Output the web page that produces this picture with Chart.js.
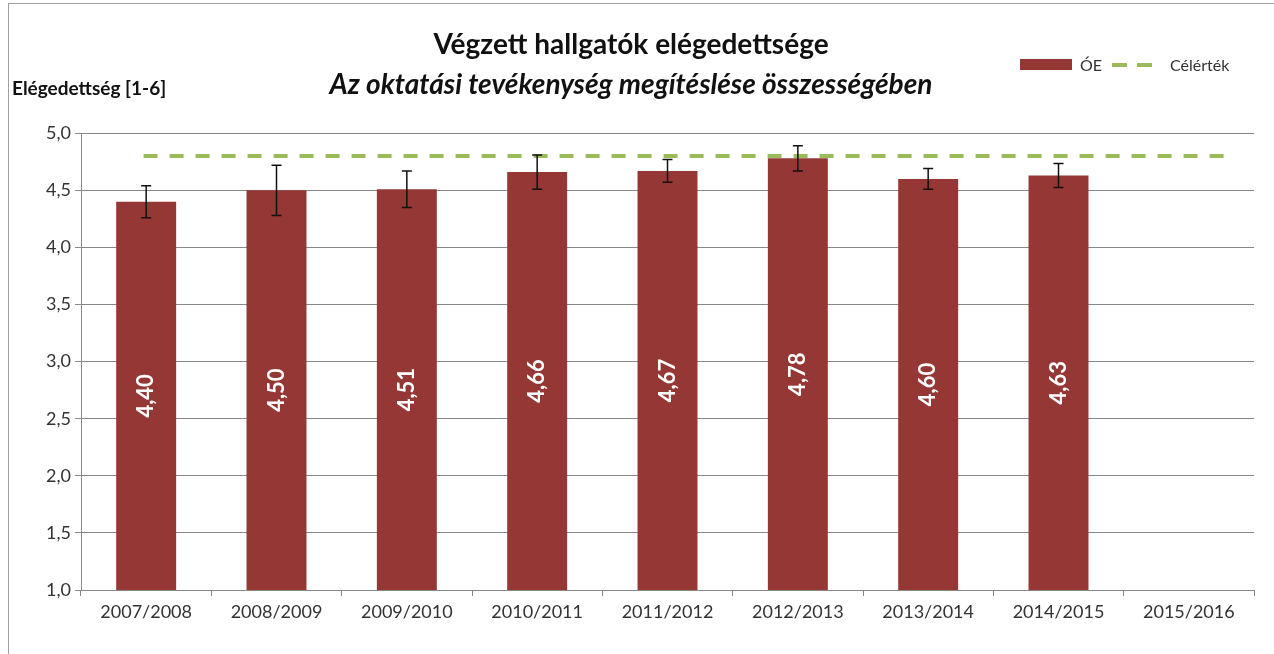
<!DOCTYPE html>
<html>
<head>
<meta charset="utf-8">
<script src="https://cdn.jsdelivr.net/npm/chart.js@4"></script>
<style>
  html, body { margin: 0; padding: 0; background: #fff; }
  #wrap { position: relative; width: 1274px; height: 654px; font-family: Lato, "Open Sans", sans-serif; }
  #frame { position: absolute; left: 8px; top: 3px; right: 0; bottom: 0; border-top: 1px solid #a0a0a0; border-left: 1px solid #a0a0a0; }
  #ylabel { position: absolute; left: 12px; top: 76px; font-size: 19px; font-weight: bold; color: #111; }
  #legend { position: absolute; left: 1020px; top: 55px; font-size: 16px; color: #333; display: flex; align-items: center; }
  .swatch { width: 52px; height: 11px; background: #953735; margin-right: 8px; }
  .dash { width: 15px; height: 4px; background: #9bbb59; }
  .gap { width: 10px; }
  canvas { position: absolute; left: 0; top: 0; }
</style>
</head>
<body>
<div id="wrap">
  <div id="frame"></div>
  <canvas id="chart" width="1274" height="654"></canvas>
  <div id="ylabel">Elégedettség [1-6]</div>
  <div id="legend"><div class="swatch"></div><span>ÓE</span><div class="gap"></div><div class="dash"></div><div class="gap"></div><div class="dash"></div><div class="gap" style="width:18px"></div><span>Célérték</span></div>
</div>
<script>
  // Academic years
  const years = ['2007/2008', '2008/2009', '2009/2010', '2010/2011', '2011/2012',
                 '2012/2013', '2013/2014', '2014/2015', '2015/2016'];
  // Satisfaction scores (ÓE), last year has no data
  const scores = [4.40, 4.50, 4.51, 4.66, 4.67, 4.78, 4.60, 4.63, null];
  // Error bar half-widths
  const errors = [0.14, 0.22, 0.16, 0.15, 0.10, 0.11, 0.09, 0.105, null];
  // Target value line (Célérték): start/end along the category range and its value
  const targetX = [0.48, 8.83];
  const targetY = [4.8, 4.8];
  const yTicks = [1.0, 1.5, 2.0, 2.5, 3.0, 3.5, 4.0, 4.5, 5.0];

  const FONT = 'Lato, "Open Sans", sans-serif';
  const fmt = v => v.toFixed(2).replace('.', ',');

  // draws error bars and rotated value labels on the bars
  const barExtras = {
    id: 'barExtras',
    afterDatasetsDraw(chart) {
      const ctx = chart.ctx;
      const meta = chart.getDatasetMeta(1);
      const y = chart.scales.y;
      meta.data.forEach((bar, i) => {
        if (scores[i] == null) return;
        const x = bar.x;
        // value label
        const mid = y.getPixelForValue((1 + scores[i]) / 2);
        ctx.save();
        ctx.translate(x, mid);
        ctx.rotate(-Math.PI / 2);
        ctx.fillStyle = '#fff';
        ctx.font = 'bold 22px ' + FONT;
        ctx.textAlign = 'center';
        ctx.textBaseline = 'middle';
        ctx.fillText(fmt(scores[i]), 0, 0);
        ctx.restore();
        // error bar
        const top = y.getPixelForValue(scores[i] + errors[i]);
        const bot = y.getPixelForValue(scores[i] - errors[i]);
        ctx.save();
        ctx.strokeStyle = '#111';
        ctx.lineWidth = 1.5;
        ctx.beginPath();
        ctx.moveTo(x, top); ctx.lineTo(x, bot);
        ctx.moveTo(x - 5, top); ctx.lineTo(x + 5, top);
        ctx.moveTo(x - 5, bot); ctx.lineTo(x + 5, bot);
        ctx.stroke();
        ctx.restore();
      });
    }
  };

  const ctx = document.getElementById('chart').getContext('2d');
  new Chart(ctx, {
    data: {
      labels: years,
      datasets: [{
        type: 'line',
        label: 'Célérték',
        data: targetX.map((x, i) => ({ x: x, y: targetY[i] })),
        xAxisID: 'x2',
        borderColor: '#9bbb59',
        borderWidth: 4,
        borderDash: [14, 12],
        pointRadius: 0,
        fill: false,
        order: 0
      }, {
        type: 'bar',
        label: 'ÓE',
        data: scores,
        xAxisID: 'x',
        grouped: false,
        backgroundColor: '#953735',
        barPercentage: 0.46,
        categoryPercentage: 1,
        order: 1
      }]
    },
    options: {
      responsive: false,
      animation: false,
      layout: { padding: { left: 8, right: 20, top: 0, bottom: 20 } },
      plugins: {
        legend: { display: false },
        tooltip: { enabled: false },
        title: {
          display: true,
          text: 'Végzett hallgatók elégedettsége',
          color: '#111',
          font: { family: FONT, size: 28, weight: 'bold' },
          padding: { top: 28, bottom: 2 }
        },
        subtitle: {
          display: true,
          text: 'Az oktatási tevékenység megítéslése összességében',
          color: '#111',
          font: { family: FONT, size: 28, weight: 'bold', style: 'italic' },
          padding: { top: 5, bottom: 31 }
        }
      },
      scales: {
        x: {
          grid: { offset: true, drawOnChartArea: false, color: '#888', tickLength: 6 },
          border: { color: '#888' },
          ticks: { color: '#333', font: { family: FONT, size: 18 }, padding: 5 },
          afterFit(scale) { scale.height = 44; }
        },
        x2: {
          type: 'linear',
          min: 0, max: 9,
          display: false
        },
        y: {
          min: 1, max: 5,
          afterBuildTicks(scale) { scale.ticks = yTicks.map(v => ({ value: v })); },
          grid: { color: '#888', tickLength: 6 },
          border: { color: '#888' },
          ticks: {
            color: '#333',
            font: { family: FONT, size: 18 },
            padding: 4,
            callback: v => v.toFixed(1).replace('.', ',')
          },
          afterFit(scale) { scale.width = 73; }
        }
      }
    },
    plugins: [barExtras]
  });
</script>
</body>
</html>
